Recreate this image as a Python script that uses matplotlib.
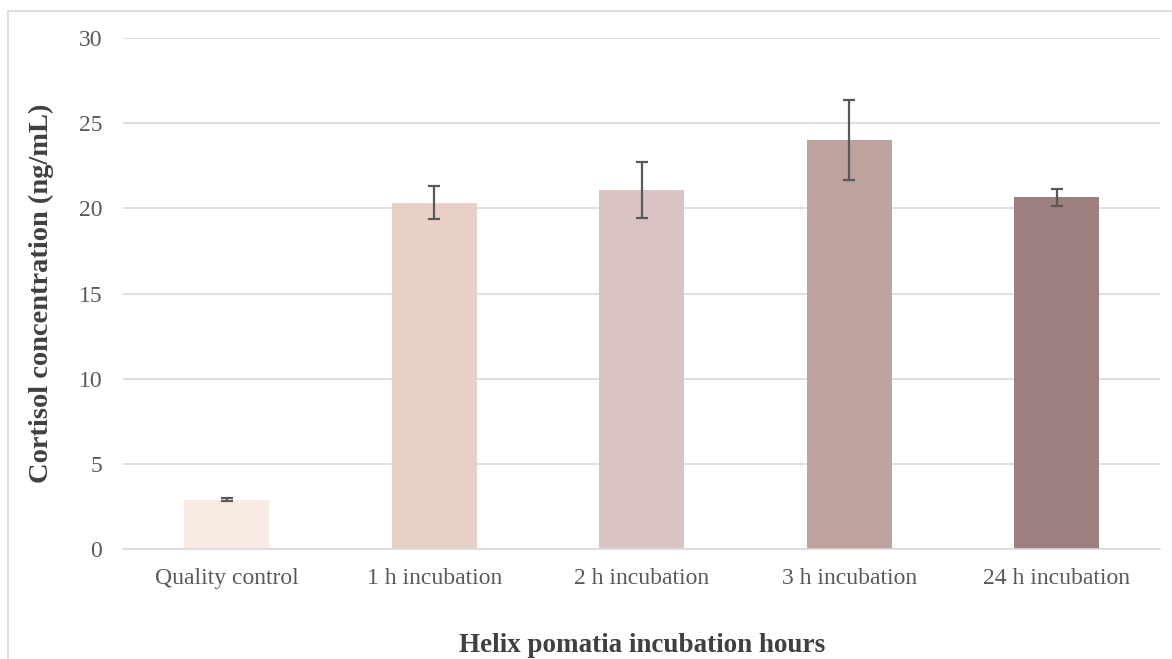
import numpy as np
import matplotlib.pyplot as plt
from matplotlib.patches import Rectangle

plt.rcParams['font.family'] = ['Liberation Serif', 'DejaVu Serif']

categories = ["Quality control", "1 h incubation", "2 h incubation", "3 h incubation", "24 h incubation"]
means = [2.9, 20.35, 21.1, 24.05, 20.65]
errors = [0.1, 0.95, 1.65, 2.35, 0.5]
colors = ["#F9EAE3", "#E9D0C7", "#D9C3C3", "#BDA29E", "#9C7F7E"]

fig = plt.figure(figsize=(11.72, 6.59), dpi=100)
ax = fig.add_axes([0.105, 0.167, 0.885, 0.775])

x = np.arange(len(categories))
ax.bar(x, means, width=0.41, color=colors, zorder=2)
ax.errorbar(x, means, yerr=errors, fmt="none", ecolor="#595959",
            elinewidth=1.6, capsize=4.5, capthick=1.6, zorder=3)

ax.set_xlim(-0.5, 4.5)
ax.set_ylim(0, 30)
ax.set_yticks(range(0, 31, 5))
ax.set_xticks(x)
ax.set_xticklabels(categories)
ax.grid(axis="y", color="#D9D9D9", lw=1.2, zorder=0)
for s in ["top", "right", "left"]:
    ax.spines[s].set_visible(False)
ax.spines["bottom"].set_color("#D9D9D9")
ax.spines["bottom"].set_linewidth(1.2)
ax.tick_params(axis="both", length=0, colors="#595959", labelsize=17)
ax.tick_params(axis="x", pad=14)
ax.tick_params(axis="y", pad=15)

ax.set_ylabel("Cortisol concentration (ng/mL)", fontsize=20.5, fontweight="bold", color="#404040")
ax.yaxis.set_label_coords(-0.067, 0.5)
ax.set_xlabel("Helix pomatia incubation hours", fontsize=19.5, fontweight="bold", color="#404040")
ax.xaxis.set_label_coords(0.5, -0.165)

fig.patches.append(Rectangle((8 / 1172, -0.01), 1.2, 1 - 11 / 659 + 0.01,
                             transform=fig.transFigure, fill=False,
                             edgecolor="#D9D9D9", lw=1.2))

fig.savefig("out.png", dpi=100)
